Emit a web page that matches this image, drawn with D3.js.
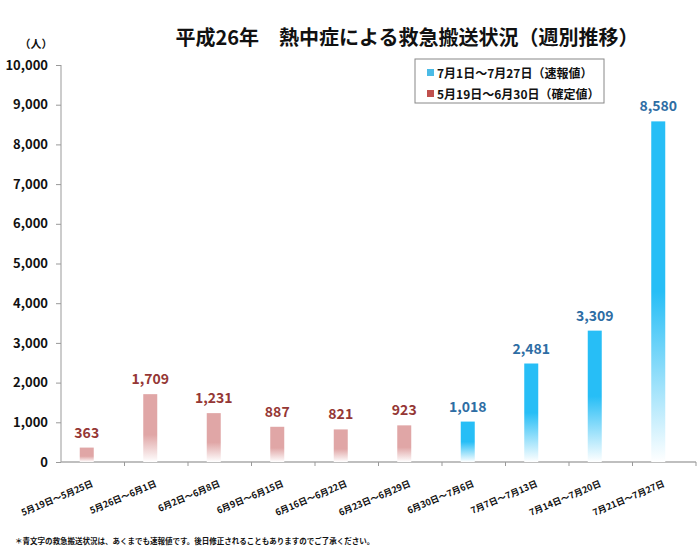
<!DOCTYPE html>
<html><head><meta charset="utf-8">
<script src="https://cdn.jsdelivr.net/npm/d3@7"></script>
<style>body{margin:0;background:#fff}</style>
</head><body>
<svg id="c" width="699" height="551"></svg>
<script>
const categories = ["5月19日～5月25日","5月26日～6月1日","6月2日～6月8日","6月9日～6月15日","6月16日～6月22日","6月23日～6月29日","6月30日～7月6日","7月7日～7月13日","7月14日～7月20日","7月21日～7月27日"];
const values = [363,1709,1231,887,821,923,1018,2481,3309,8580];
const series = ["confirmed","confirmed","confirmed","confirmed","confirmed","confirmed","prelim","prelim","prelim","prelim"];
const yTicks = [0,1000,2000,3000,4000,5000,6000,7000,8000,9000,10000];
const legendLabels = ["7月1日～7月27日（速報値）","5月19日～6月30日（確定値）"];

const font = "'Noto Sans CJK JP','Noto Sans',sans-serif";
const svg = d3.select("#c").style("font-family", font);
const x = d3.scaleBand().domain(categories).range([61, 696]);
const y = d3.scaleLinear().domain([0, 10000]).range([462, 65]);

const defs = svg.append("defs");
function grad(id, c, mid) {
  const g = defs.append("linearGradient").attr("id", id).attr("x1",0).attr("y1",0).attr("x2",0).attr("y2",1);
  g.append("stop").attr("offset","0%").attr("stop-color",c);
  g.append("stop").attr("offset",mid).attr("stop-color",c);
  g.append("stop").attr("offset","100%").attr("stop-color","#ffffff");
}
grad("gp","#27bef6","50%");
grad("gc","#e0a6a6","60%");

// title
svg.append("text").attr("x",407).attr("y",45).attr("text-anchor","middle")
  .attr("font-size",20).attr("font-weight","bold").attr("fill","#111")
  .text("平成26年　熱中症による救急搬送状況（週別推移）");

// y axis
const ya = svg.append("g").attr("transform","translate(61,0)")
  .call(d3.axisLeft(y).tickValues(yTicks).tickSize(5).tickFormat(d3.format(",")));
ya.select(".domain").attr("stroke","#999").attr("d","M0,"+y(10000)+"V"+y(0));
ya.selectAll(".tick line").attr("stroke","#999");
ya.selectAll(".tick text").attr("x",-13).attr("font-size",13).attr("font-weight","bold").attr("fill","#111").attr("font-family",font);
svg.append("text").attr("x",36).attr("y",48).attr("text-anchor","middle").attr("font-size",11).attr("font-weight","bold").attr("fill","#111").text("（人）");

// x axis
const xa = svg.append("g").attr("transform","translate(0,"+y(0)+")");
xa.append("line").attr("x1",61).attr("x2",696).attr("stroke","#aaa").attr("stroke-width",1.5);
categories.forEach((c,i)=>{
  const xe = x(c)+x.bandwidth();
  xa.append("line").attr("x1",xe).attr("x2",xe).attr("y1",0).attr("y2",4).attr("stroke","#999");
});
xa.selectAll("text.xl").data(categories).join("text").attr("class","xl")
  .attr("transform",d=>"translate("+(x(d)+x.bandwidth()/2+1)+",24) rotate(-23)")
  .attr("text-anchor","end").attr("font-size",9).attr("font-weight","bold").attr("fill","#111")
  .text(d=>d);

// bars
const bw = 14;
const bx = d => x(d) + x.bandwidth()/2 - 13;
svg.selectAll("rect.bar").data(categories).join("rect").attr("class","bar")
  .attr("x",d=>bx(d)).attr("width",bw)
  .attr("y",(d,i)=>y(values[i])).attr("height",(d,i)=>y(0)-y(values[i]))
  .attr("fill",(d,i)=>series[i]==="prelim"?"url(#gp)":"url(#gc)");
svg.selectAll("text.val").data(categories).join("text").attr("class","val")
  .attr("x",d=>bx(d)+bw/2).attr("y",(d,i)=>y(values[i])-10)
  .attr("text-anchor","middle").attr("font-size",14).attr("font-weight","bold")
  .attr("fill",(d,i)=>series[i]==="prelim"?"#2e6da4":"#953735")
  .text((d,i)=>d3.format(",")(values[i]));

// legend
const lg = svg.append("g");
lg.append("rect").attr("x",415).attr("y",59).attr("width",189).attr("height",44).attr("fill","#fff").attr("stroke","#888");
const lcol = ["#4bbbe6","#c0504d"];
legendLabels.forEach((t,i)=>{
  const yy = 73 + i*21;
  lg.append("rect").attr("x",427).attr("y",yy-4).attr("width",7).attr("height",7).attr("fill",lcol[i]);
  lg.append("text").attr("x",437).attr("y",yy+4.5).attr("font-size",12).attr("font-weight","bold").attr("fill","#111").text(t);
});

// footnote
svg.append("text").attr("x",15).attr("y",544).attr("font-size",7.5).attr("font-weight","bold").attr("fill","#111")
  .text("＊青文字の救急搬送状況は、あくまでも速報値です。後日修正されることもありますのでご了承ください。");
</script>
</body></html>
